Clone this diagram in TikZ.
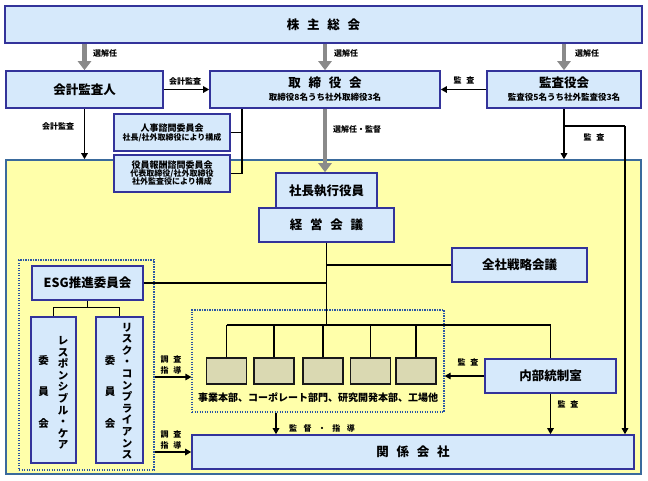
\documentclass[tikz,border=0pt]{standalone}
\usepackage{fontspec}
\setmainfont{Noto Sans CJK JP}
\usetikzlibrary{arrows.meta}
\definecolor{boxfill}{HTML}{D6E9FB}
\definecolor{boxline}{HTML}{33339A}
\definecolor{yel}{HTML}{FFFFAA}
\definecolor{yelline}{HTML}{3A6A9C}
\definecolor{deptfill}{HTML}{DAD9B2}
\definecolor{dotblue}{HTML}{2A55A5}
\definecolor{greyarr}{HTML}{8A8A8A}
\newcommand{\jsp}{\hspace{0.62em}}
\newcommand{\ssp}{\hspace{0.8em}}
\begin{document}
\begin{tikzpicture}[x=1pt,y=-1pt,
  box/.style={draw=boxline, line width=1.6pt, fill=boxfill, inner sep=0pt, align=center,
    font=\fontsize{12.5}{14}\selectfont\bfseries},
  subbox/.style={box, font=\fontsize{9}{11}\selectfont\bfseries},
  deptbox/.style={draw=black!90, line width=1.8pt, fill=deptfill, inner sep=0pt,
    minimum width=40, minimum height=26},
  dotbox/.style={draw=dotblue, line width=1.2pt, dash pattern=on 1.2pt off 1.3pt, inner sep=0pt},
  lbl/.style={inner sep=0pt, font=\fontsize{8}{9.5}\selectfont\bfseries, align=center},
  vtxt/.style={inner sep=0pt, align=center, font=\fontsize{10.5}{11.6}\selectfont\bfseries},
  vtxtb/.style={inner sep=0pt, align=center, font=\fontsize{10.5}{31.5}\selectfont\bfseries},
  ln/.style={draw=black, line width=1.2pt},
  arr/.style={ln, -{Triangle[length=6pt,width=6.5pt]}},
  garr/.style={draw=greyarr, line width=4.5pt, -{Triangle[length=9pt,width=13pt]}}
]
\useasboundingbox (0,0) rectangle (648,480);

% yellow executive area
\node[draw=yelline, line width=1.6pt, fill=yel, minimum width=635, minimum height=314, inner sep=0pt] (yarea) at (323.5,317) {};

% top level
\node[box, minimum width=637, minimum height=37] (kabu) at (323.5,24.5) {株\jsp 主\jsp 総\jsp 会};
\node[box, minimum width=157, minimum height=37] (kaikei) at (84.5,89.5) {会計監査人};
\node[box, minimum width=230, minimum height=37] (tori) at (325,89.5)
  {取\jsp 締\jsp 役\jsp 会\\[-1pt]{\fontsize{8.5}{10}\selectfont 取締役8名うち社外取締役3名}};
\node[box, minimum width=154, minimum height=37] (kansa) at (564,89.5)
  {監査役会\\[-1pt]{\fontsize{8.5}{10}\selectfont 監査役5名うち社外監査役3名}};

% advisory committees
\node[subbox, minimum width=116, minimum height=37] (jinji) at (172,132.5)
  {人事諮問委員会\\[-2pt]{\fontsize{8}{9.5}\selectfont 社長/社外取締役により構成}};
\node[subbox, minimum width=116, minimum height=37] (hoshu) at (172,173.5)
  {役員報酬諮問委員会\\[-3pt]{\fontsize{8}{9.5}\selectfont 代表取締役/社外取締役}\\[-3pt]{\fontsize{8}{9.5}\selectfont 社外監査役により構成}};

% executive
\node[box, minimum width=101, minimum height=35] (shacho) at (326.5,190.5) {社長執行役員};
\node[box, minimum width=135, minimum height=34] (keiei) at (326.5,225) {経\jsp 営\jsp 会\jsp 議};
\node[box, minimum width=135, minimum height=34] (zensha) at (519.5,265) {全社戦略会議};

% ESG area
\node[dotbox, minimum width=135, minimum height=210] (esgarea) at (86.5,365) {};
\node[box, minimum width=111, minimum height=34] (esg) at (87.5,283) {ESG推進委員会};
\node[box, minimum width=45, minimum height=146] (resp) at (53.5,390) {};
\node[box, minimum width=47, minimum height=146] (risk) at (119.5,390) {};
\node[vtxt] (respA) at (63,393) {レ\\ス\\ポ\\ン\\シ\\ブ\\ル\\・\\ケ\\ア};
\node[vtxtb] (respB) at (43.5,392) {委\\員\\会};
\node[vtxt] (riskA) at (127,391) {リ\\ス\\ク\\・\\コ\\ン\\プ\\ラ\\イ\\ア\\ン\\ス};
\node[vtxtb] (riskB) at (110,392) {委\\員\\会};

% departments area
\node[dotbox, minimum width=252, minimum height=102] (deptarea) at (318,361) {};
\node[deptbox] (d1) at (226.5,371) {};
\node[deptbox] (d2) at (274,371) {};
\node[deptbox] (d3) at (323,371) {};
\node[deptbox] (d4) at (370.5,371) {};
\node[deptbox] (d5) at (416,371) {};
\node[inner sep=0pt, font=\fontsize{10}{12}\selectfont\bfseries] (depttxt) at (318,398)
  {事業本部、コーポレート部門、研究開発本部、工場他};

\node[box, minimum width=131, minimum height=34] (naibu) at (550.5,376) {内部統制室};
\node[box, minimum width=442, minimum height=34] (kankei) at (413,452) {関\jsp 係\jsp 会\jsp 社};

% grey election arrows
\draw[garr] (kabu.south -| kaikei.north) -- (kaikei.north);
\draw[garr] (kabu.south -| tori.north) -- (tori.north);
\draw[garr] (kabu.south -| kansa.north) -- (kansa.north);
\draw[garr] (tori.south) -- (tori.south |- shacho.north);
\node[lbl, anchor=west] (l1) at (93,53) {選解任};
\node[lbl, anchor=west] (l2) at (334,53) {選解任};
\node[lbl, anchor=west] (l3) at (575,53) {選解任};
\node[lbl, anchor=west] (l4) at (333,129) {選解任・監督};

% audit arrows at top
\draw[arr] (kaikei.east) -- (tori.west);
\node[lbl] (l5) at (185,81) {会計監査};
\draw[arr] (kansa.west) -- (tori.east);
\node[lbl] (l6) at (464,80) {監\jsp 査};
\draw[arr] (kaikei.south) -- (kaikei.south |- yarea.north);
\node[lbl] (l7) at (58,126) {会計監査};
\draw[arr] (kansa.south) -- (kansa.south |- yarea.north);
\coordinate (rj) at (625,126);
\draw[ln] (kansa.south |- rj) -- (rj);
\draw[arr] (rj) -- (rj |- kankei.north);
\node[lbl] (l8) at (594,137) {監\jsp 査};

% committees connection
\coordinate (jc) at (242,130);
\draw[ln] (tori.south -| jc) |- (hoshu.east);
\draw[ln] (jinji.east) -- (jinji.east -| jc);

% management tree
\coordinate (split) at (326.5,325);
\draw[ln] (keiei.south) -- (split);
\draw[ln] (zensha.west) -- (zensha.west -| keiei.south);
\draw[ln] (esg.east) -- (esg.east -| keiei.south);
\draw[ln] (d1.north |- split) -- (naibu.north |- split) -- (naibu.north);
\foreach \d in {d1,d2,d3,d4,d5} \draw[ln] (\d.north |- split) -- (\d.north);
\draw[ln] (esg.south) -- ++(0,7) -| (resp.north);
\draw[ln] (esg.south) -- ++(0,7) -| (risk.north);

% lower arrows
\draw[arr] (naibu.west) -- (naibu.west -| deptarea.east);
\node[lbl] (l9) at (468,362) {監\jsp 査};
\draw[arr] (naibu.south) -- (naibu.south |- kankei.north);
\node[lbl] (l10) at (568,404) {監\jsp 査};
\coordinate (dc) at (276,412);
\draw[arr] (deptarea.south -| dc) -- (dc |- kankei.north);
\node[lbl] (l11) at (322,428) {監\ssp 督\ssp ・\ssp 指\ssp 導};
\draw[arr] (esgarea.east |- 0,377) -- (deptarea.west |- 0,377);
\node[lbl, font=\fontsize{8}{11.5}\selectfont\bfseries] (l12) at (171,365) {調\jsp 査\\指\jsp 導};
\draw[arr] (esgarea.east |- kankei.west) -- (kankei.west);
\node[lbl, font=\fontsize{8}{11.5}\selectfont\bfseries] (l13) at (171,440) {調\jsp 査\\指\jsp 導};
\end{tikzpicture}
\end{document}
